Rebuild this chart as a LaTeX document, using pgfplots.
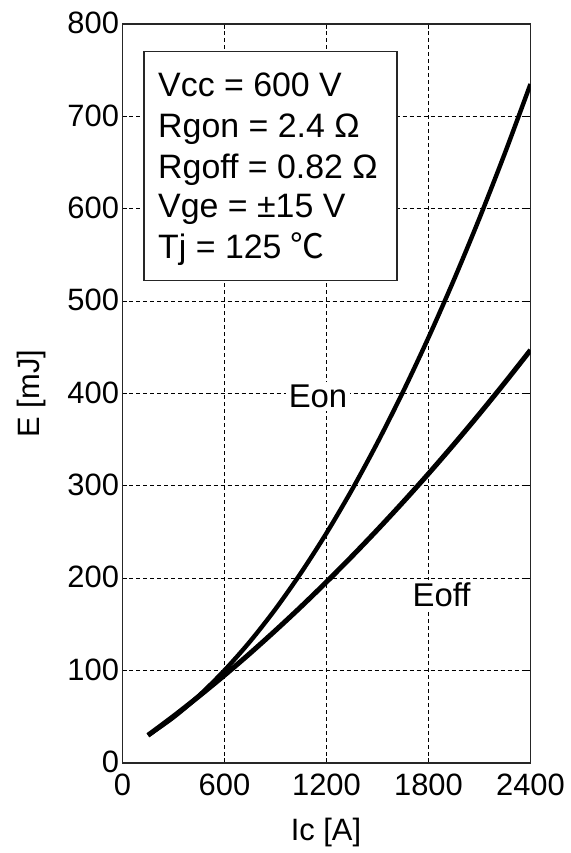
\documentclass[border=0pt]{standalone}
\usepackage{fontspec}
\setmainfont{Liberation Sans}
\newfontfamily\cjk{Noto Sans CJK SC}
\usepackage{pgfplots}
\pgfplotsset{compat=1.18}
\begin{document}
\begin{tikzpicture}
\begin{axis}[
  at={(0,0)}, anchor=south west,
  scale only axis, width=408bp, height=739bp,
  xmin=0, xmax=2400, ymin=0, ymax=800,
  xtick={0,600,...,2400}, ytick={0,100,...,800},
  grid=major,
  major grid style={black, line width=0.9bp, dash pattern=on 4bp off 3bp},
  axis line style={line width=1.3bp, black!85},
  tick style={black, line width=0.9bp}, major tick length=5bp, tick align=inside,
  /pgf/number format/assume math mode=true,
  /pgf/number format/1000 sep={},
  xticklabel style={font=\fontsize{31}{37}\selectfont, yshift=-7bp},
  yticklabel style={font=\fontsize{31}{37}\selectfont, yshift=1bp},
]
\addplot[black, line width=4.4bp, smooth] coordinates {
 (150,30) (300,49.5) (450,72.9) (600,100.3) (750,131.5) (900,166.7) (1050,205.9)
 (1200,248.9) (1350,295.9) (1500,346.9) (1650,401.8) (1800,460.6) (1950,523.3)
 (2100,589.9) (2250,660.5) (2400,735)
};
\addplot[black, line width=5bp, smooth] coordinates {
 (150,30) (300,50.6) (450,72.3) (600,95) (750,118.7) (900,143.5) (1050,169.2)
 (1200,196) (1350,223.8) (1500,252.6) (1650,282.4) (1800,313.2) (1950,345.1)
 (2100,378) (2250,412) (2400,447)
};
\draw[draw=black!85, fill=white, line width=1.3bp] (axis cs:126,770) rectangle (axis cs:1615,522);
\node[anchor=base west, inner sep=0, font=\fontsize{34}{40}\selectfont] at (axis cs:209,721) {Vcc = 600 V};
\node[anchor=base west, inner sep=0, font=\fontsize{34}{40}\selectfont] at (axis cs:209,677.5) {Rgon = 2.4 Ω};
\node[anchor=base west, inner sep=0, font=\fontsize{34}{40}\selectfont] at (axis cs:209,633) {Rgoff = 0.82 Ω};
\node[anchor=base west, inner sep=0, font=\fontsize{34}{40}\selectfont] at (axis cs:209,590) {Vge = ±15 V};
\node[anchor=base west, inner sep=0, font=\fontsize{34}{40}\selectfont] at (axis cs:209,546.5) {Tj = 125 {\cjk ℃}};
\node[fill=white, inner sep=3bp, font=\fontsize{33}{40}\selectfont] at (axis cs:1150,397) {Eon};
\node[fill=white, inner sep=3bp, font=\fontsize{33}{40}\selectfont] at (axis cs:1877,182) {Eoff};
\end{axis}
\node[rotate=90, font=\fontsize{31}{37}\selectfont] at (-90.5bp,369.5bp) {E [mJ]};
\node[font=\fontsize{31}{37}\selectfont] at (203.5bp,-70bp) {Ic [A]};
\pgfresetboundingbox
\path (-122.5bp,-90bp) rectangle (448.5bp,763bp);
\end{tikzpicture}
\end{document}
